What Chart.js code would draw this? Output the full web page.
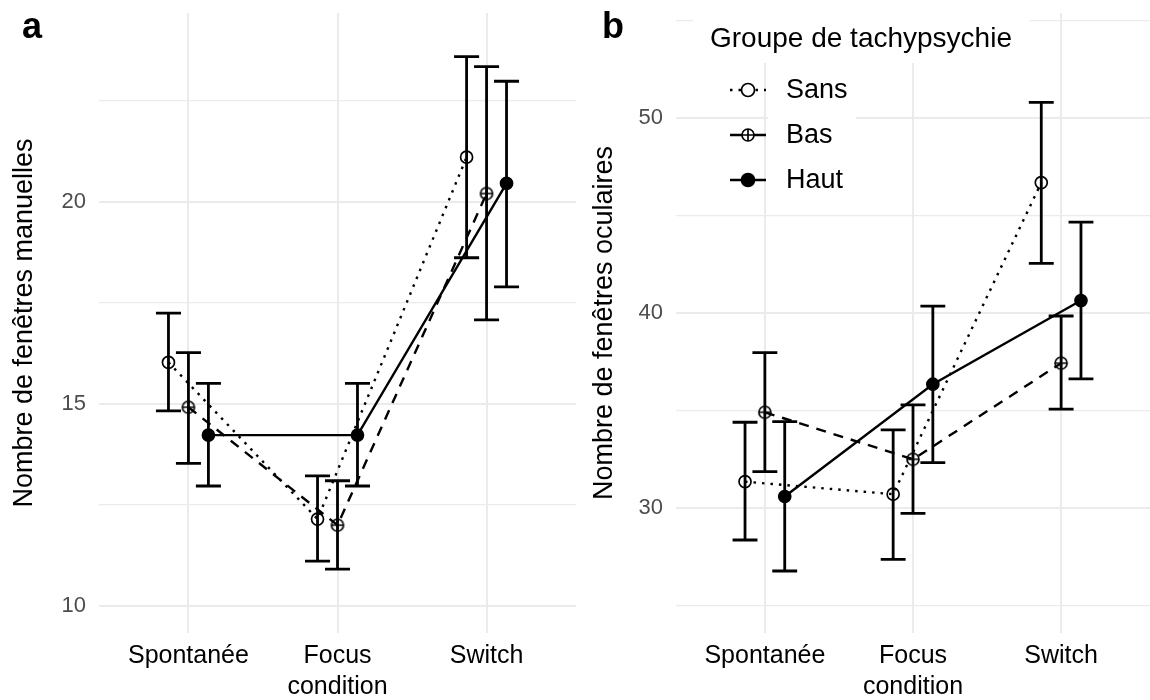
<!DOCTYPE html>
<html>
<head>
<meta charset="utf-8">
<script src="https://cdn.jsdelivr.net/npm/chart.js@4.4.1/dist/chart.umd.min.js"></script>
<style>
  body { margin: 0; background: #fff; overflow: hidden; }
  canvas { position: absolute; top: 0; }
  .tag { position: absolute; font-family: 'Liberation Sans', Arial, sans-serif; font-weight: bold; font-size: 36px; line-height: 1; color: #000; }
</style>
</head>
<body>
<canvas id="chartA" width="580" height="700" style="left:0"></canvas>
<canvas id="chartB" width="570" height="700" style="left:580px"></canvas>
<div class="tag" style="left:22px;top:8px">a</div>
<div class="tag" style="left:602px;top:8px">b</div>
<script>
// categories et groupes
const categories = ['Spontanée', 'Focus', 'Switch'];
const groups = ['Sans', 'Bas', 'Haut'];
const legendTitle = 'Groupe de tachypsychie';

// a : fenêtres manuelles (moyenne, borne basse, borne haute)
const manSans = [16.03, 12.15, 21.11];
const manSansLow = [14.83, 11.11, 18.62];
const manSansHigh = [17.25, 13.22, 23.60];
const manBas = [14.92, 12.00, 20.21];
const manBasLow = [13.53, 10.91, 17.08];
const manBasHigh = [16.27, 13.10, 23.35];
const manHaut = [14.23, 14.23, 20.46];
const manHautLow = [12.97, 12.97, 17.90];
const manHautHigh = [15.51, 15.51, 22.99];
const manTicks = [10, 15, 20];

// b : fenêtres oculaires
const ocuSans = [31.36, 30.72, 46.70];
const ocuSansLow = [28.37, 27.38, 42.56];
const ocuSansHigh = [34.41, 34.02, 50.82];
const ocuBas = [34.92, 32.51, 37.44];
const ocuBasLow = [31.88, 29.74, 35.08];
const ocuBasHigh = [37.98, 35.30, 39.86];
const ocuHaut = [30.60, 36.36, 40.65];
const ocuHautLow = [26.78, 32.34, 36.63];
const ocuHautHigh = [34.44, 40.37, 44.67];
const ocuTicks = [30, 40, 50];

const FONT = "'Liberation Sans', Arial, sans-serif";
const dodge = [-0.134, 0, 0.134];
const lineDash = [[2.5, 6], [10, 8], []];

// cercle avec croix pour "Bas"
function circlePlus(r) {
  const c = document.createElement('canvas');
  const s = Math.ceil(r * 2 + 4);
  c.width = s; c.height = s;
  const g = c.getContext('2d');
  g.strokeStyle = '#000';
  g.lineWidth = 1.7;
  g.beginPath(); g.arc(s / 2, s / 2, r, 0, Math.PI * 2); g.stroke();
  g.beginPath();
  g.moveTo(s / 2 - r, s / 2); g.lineTo(s / 2 + r, s / 2);
  g.moveTo(s / 2, s / 2 - r); g.lineTo(s / 2, s / 2 + r);
  g.stroke();
  return c;
}
const pointStyles = ['circle', circlePlus(6), 'circle'];

function makeDataset(gi, values, low, high) {
  return {
    label: groups[gi],
    data: values.map((v, i) => ({ x: i + dodge[gi], y: v, lo: low[i], hi: high[i] })),
    borderColor: '#000',
    borderWidth: 2.4,
    borderDash: lineDash[gi],
    tension: 0,
    fill: false,
    pointStyle: pointStyles[gi],
    pointRadius: 6,
    pointBorderWidth: 1.7,
    pointBorderColor: '#000',
    pointBackgroundColor: gi === 2 ? '#000' : 'rgba(0,0,0,0)'
  };
}

const errorBars = {
  id: 'errorBars',
  beforeDatasetsDraw(chart) {
    const { ctx, chartArea, scales: { x, y } } = chart;
    const half = x.getPixelForValue(0.084) - x.getPixelForValue(0);
    ctx.save();
    ctx.beginPath();
    ctx.rect(chartArea.left, chartArea.top, chartArea.right - chartArea.left, chartArea.bottom - chartArea.top);
    ctx.clip();
    ctx.strokeStyle = '#000';
    ctx.lineWidth = 2.8;
    chart.data.datasets.forEach(ds => ds.data.forEach(p => {
      const px = x.getPixelForValue(p.x);
      const top = y.getPixelForValue(p.hi);
      const bot = y.getPixelForValue(p.lo);
      ctx.beginPath();
      ctx.moveTo(px, top); ctx.lineTo(px, bot);
      ctx.moveTo(px - half, top); ctx.lineTo(px + half, top);
      ctx.moveTo(px - half, bot); ctx.lineTo(px + half, bot);
      ctx.stroke();
    }));
    ctx.restore();
  }
};

const groupLegend = {
  id: 'groupLegend',
  afterDraw(chart) {
    const ctx = chart.ctx;
    const rows = [90, 135, 180];
    ctx.save();
    ctx.fillStyle = '#fff';
    ctx.fillRect(113, 13, 337, 50);
    ctx.fillRect(188, 63, 88, 142);
    ctx.fillStyle = '#000';
    ctx.font = '28px ' + FONT;
    ctx.textBaseline = 'alphabetic';
    ctx.fillText(legendTitle, 130, 47);
    ctx.font = '27px ' + FONT;
    ctx.textBaseline = 'middle';
    groups.forEach((g, gi) => {
      const yy = rows[gi];
      ctx.strokeStyle = '#000';
      ctx.lineWidth = 2.4;
      ctx.setLineDash(gi === 0 ? lineDash[0] : []);
      ctx.beginPath(); ctx.moveTo(150, yy); ctx.lineTo(186, yy); ctx.stroke();
      ctx.setLineDash([]);
      ctx.lineWidth = 1.7;
      if (gi === 1) {
        const img = pointStyles[1];
        ctx.fillStyle = '#fff';
        ctx.beginPath(); ctx.arc(168, yy, 6, 0, Math.PI * 2); ctx.fill();
        ctx.drawImage(img, 168 - img.width / 2, yy - img.height / 2);
      } else {
        ctx.fillStyle = gi === 2 ? '#000' : '#fff';
        ctx.beginPath(); ctx.arc(168, yy, 6.5, 0, Math.PI * 2); ctx.fill(); ctx.stroke();
      }
      ctx.fillStyle = '#000';
      ctx.fillText(g, 206, yy + 1);
    });
    ctx.restore();
  }
};

function noPad(s) {
  s.paddingTop = 0; s.paddingBottom = 0; s.paddingLeft = 0; s.paddingRight = 0;
}

function makeChart(id, datasets, yMin, yMax, yTicks, yTitle, padRight, extra) {
  const step = (yTicks[1] - yTicks[0]) / 2;
  return new Chart(document.getElementById(id), {
    type: 'line',
    data: { datasets },
    options: {
      responsive: false,
      animation: false,
      layout: { autoPadding: false, padding: { top: 13, right: padRight, left: 0, bottom: 0 } },
      plugins: { legend: { display: false }, tooltip: { enabled: false } },
      scales: {
        x: {
          type: 'linear', min: -0.6, max: 2.6,
          afterBuildTicks: s => { s.ticks = categories.map((c, i) => ({ value: i })); },
          afterFit: s => { s.height = 67; noPad(s); },
          grid: { color: '#ebebeb', lineWidth: 2, drawTicks: false },
          border: { display: false },
          ticks: { padding: 8, color: '#000', autoSkip: false, maxRotation: 0,
                   font: { size: 25, family: FONT }, callback: v => categories[v] },
          title: { display: true, text: 'condition', color: '#000', padding: 0,
                   font: { size: 25, family: FONT, lineHeight: 1 } }
        },
        y: {
          type: 'linear', min: yMin, max: yMax,
          afterBuildTicks: s => {
            const t = [];
            for (let v = Math.ceil(yMin / step) * step; v <= yMax; v += step) t.push({ value: v });
            s.ticks = t;
          },
          afterFit: s => { s.width = extra.yWidth; noPad(s); },
          grid: { color: '#ebebeb', drawTicks: false,
                  lineWidth: c => (c.tick && yTicks.includes(c.tick.value)) ? 2 : 1.2 },
          border: { display: false },
          ticks: { padding: 13, color: '#4d4d4d', autoSkip: false,
                   font: { size: 22, family: FONT },
                   callback: v => yTicks.includes(v) ? String(v) : '' },
          title: { display: true, text: yTitle, color: '#000', padding: { top: 11, bottom: 0 },
                   font: { size: 27, family: FONT, lineHeight: 1 } }
        }
      }
    },
    plugins: extra.plugins
  });
}

makeChart('chartA', [
  makeDataset(0, manSans, manSansLow, manSansHigh),
  makeDataset(1, manBas, manBasLow, manBasHigh),
  makeDataset(2, manHaut, manHautLow, manHautHigh)
], 9.33, 24.68, manTicks, 'Nombre de fenêtres manuelles', 4, { yWidth: 99, plugins: [errorBars] });

makeChart('chartB', [
  makeDataset(0, ocuSans, ocuSansLow, ocuSansHigh),
  makeDataset(1, ocuBas, ocuBasLow, ocuBasHigh),
  makeDataset(2, ocuHaut, ocuHautLow, ocuHautHigh)
], 23.6, 55.4, ocuTicks, 'Nombre de fenêtres oculaires', 0, { yWidth: 96, plugins: [errorBars, groupLegend] });
</script>
</body>
</html>
